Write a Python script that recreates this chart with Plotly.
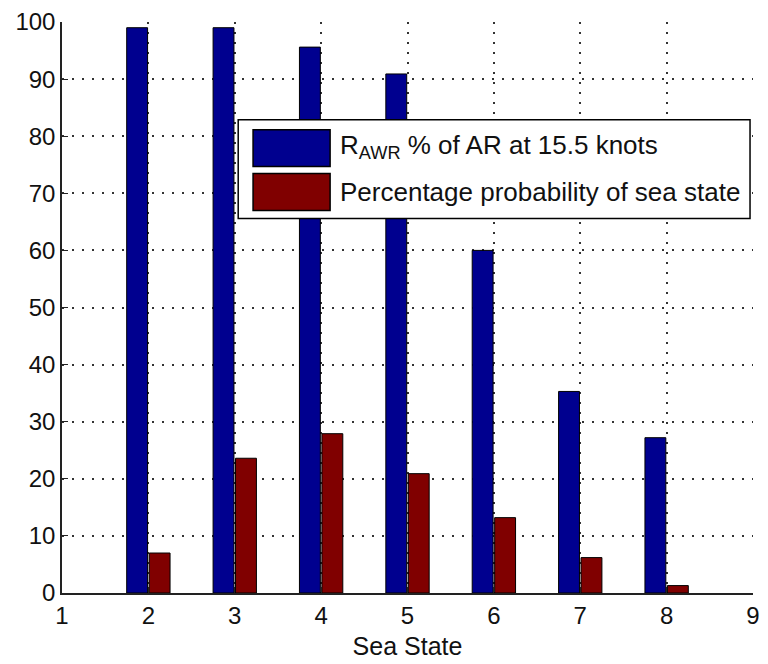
import plotly.graph_objects as go

# Sea states and percentages
sea_state = [2, 3, 4, 5, 6, 7, 8]
rawr_pct = [99, 99, 95.6, 90.9, 60, 35.3, 27.2]
prob_pct = [7.0, 23.6, 27.9, 20.9, 13.2, 6.2, 1.3]

series_names = ["R<sub>AWR</sub> % of AR at 15.5 knots",
                "Percentage probability of sea state"]
series_colors = ["#00008F", "#800000"]

x_ticks = [1, 2, 3, 4, 5, 6, 7, 8, 9]
y_ticks = [0, 10, 20, 30, 40, 50, 60, 70, 80, 90, 100]

FONT = "Liberation Sans, Arial, sans-serif"

fig = go.Figure()
for vals, name, col in zip([rawr_pct, prob_pct], series_names, series_colors):
    fig.add_trace(go.Bar(
        x=sea_state, y=vals, name=name,
        marker=dict(color=col, line=dict(color="black", width=1)),
        showlegend=False,
    ))

axis_common = dict(
    showline=True, linecolor="#222222", linewidth=1.5,
    ticks="inside", ticklen=6, tickcolor="#222222",
    showgrid=True, gridcolor="#333333", gridwidth=1.6, griddash="2px,8px",
    zeroline=False, mirror=False,
    tickfont=dict(family=FONT, size=24, color="#111111"),
)

fig.update_layout(
    width=768, height=664,
    margin=dict(l=62, r=8, t=20, b=71),
    paper_bgcolor="white", plot_bgcolor="white",
    barmode="group", bargap=0.48, bargroupgap=0.07,
    font=dict(family=FONT, size=24, color="#111111"),
    xaxis=dict(range=[1, 9], tickvals=x_ticks,
               title=dict(text="Sea State", font=dict(family=FONT, size=25), standoff=10),
               **axis_common),
    yaxis=dict(range=[0, 100], tickvals=y_ticks, **axis_common),
)

# Boxed legend with large colour swatches
fig.add_shape(type="rect", xref="paper", yref="paper",
              x0=0.255, x1=0.9957, y0=0.656, y1=0.829,
              fillcolor="white", line=dict(color="black", width=1.5), layer="above")
swatch_rows = [(0.747, 0.8115, 0.782), (0.670, 0.7347, 0.703)]
for (y0, y1, yc), name, col in zip(swatch_rows, series_names, series_colors):
    fig.add_shape(type="rect", xref="paper", yref="paper",
                  x0=0.2765, x1=0.388, y0=y0, y1=y1,
                  fillcolor=col, line=dict(color="black", width=1.5), layer="above")
    fig.add_annotation(xref="paper", yref="paper", x=0.399, y=yc,
                       xanchor="left", yanchor="middle", showarrow=False,
                       text=name, font=dict(family=FONT, size=26, color="#111111"))

fig.write_html("out.html")
